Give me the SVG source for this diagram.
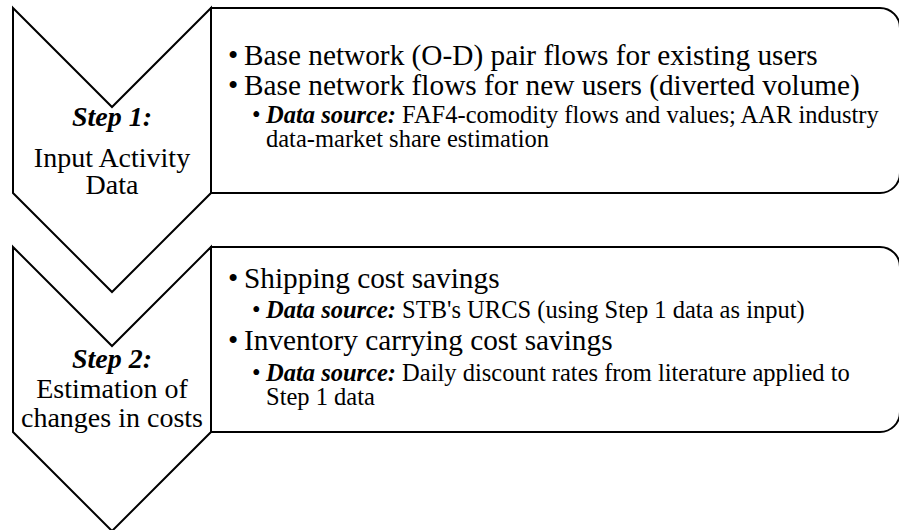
<svg xmlns="http://www.w3.org/2000/svg" width="899" height="530" viewBox="0 0 899 530">
<style>
.shape{fill:#fff;stroke:#000;stroke-width:2;stroke-linejoin:miter}
text{font-family:"Liberation Serif","Times New Roman",serif;fill:#000}
.lbl{font-size:28px;text-anchor:middle}
.l1{font-size:29.3px}
.l2{font-size:24.5px}
.bi{font-weight:bold;font-style:italic}
</style>
<rect width="899" height="530" fill="#fff"/>
<g id="step1">
<path class="shape" d="M13,8 L112,107 L211,8 L211,193 L112,292 L13,193 Z"/>
<text class="lbl bi" x="112" y="126">Step 1:</text>
<text class="lbl" x="112" y="167">Input Activity</text>
<text class="lbl" x="112" y="194">Data</text>
</g>
<g id="step1-details">
<path class="shape" d="M211,8 H880 A20,20 0 0 1 900,28 V173 A20,20 0 0 1 880,193 H211 Z"/>
<text class="l1" x="228" y="65">•</text>
<text class="l1" x="244" y="65">Base network (O-D) pair flows for existing users</text>
<text class="l1" x="228" y="95">•</text>
<text class="l1" x="244" y="95">Base network flows for new users (diverted volume)</text>
<text class="l2" x="252" y="123">•</text>
<text class="l2" x="266" y="123"><tspan class="bi">Data source:</tspan> FAF4-comodity flows and values; AAR industry</text>
<text class="l2" x="266" y="147">data-market share estimation</text>
</g>
<g id="step2">
<path class="shape" d="M13,247 L112,346 L211,247 L211,432 L112,531 L13,432 Z"/>
<text class="lbl bi" x="112" y="368">Step 2:</text>
<text class="lbl" x="112" y="398">Estimation of</text>
<text class="lbl" x="112" y="427">changes in costs</text>
</g>
<g id="step2-details">
<path class="shape" d="M211,247 H880 A20,20 0 0 1 900,267 V412 A20,20 0 0 1 880,432 H211 Z"/>
<text class="l1" x="228" y="288">•</text>
<text class="l1" x="244" y="288">Shipping cost savings</text>
<text class="l2" x="252" y="318">•</text>
<text class="l2" x="266" y="318"><tspan class="bi">Data source:</tspan> STB's URCS (using Step 1 data as input)</text>
<text class="l1" x="228" y="350">•</text>
<text class="l1" x="244" y="350">Inventory carrying cost savings</text>
<text class="l2" x="252" y="381">•</text>
<text class="l2" x="266" y="381"><tspan class="bi">Data source:</tspan> Daily discount rates from literature applied to</text>
<text class="l2" x="266" y="405">Step 1 data</text>
</g>
</svg>
